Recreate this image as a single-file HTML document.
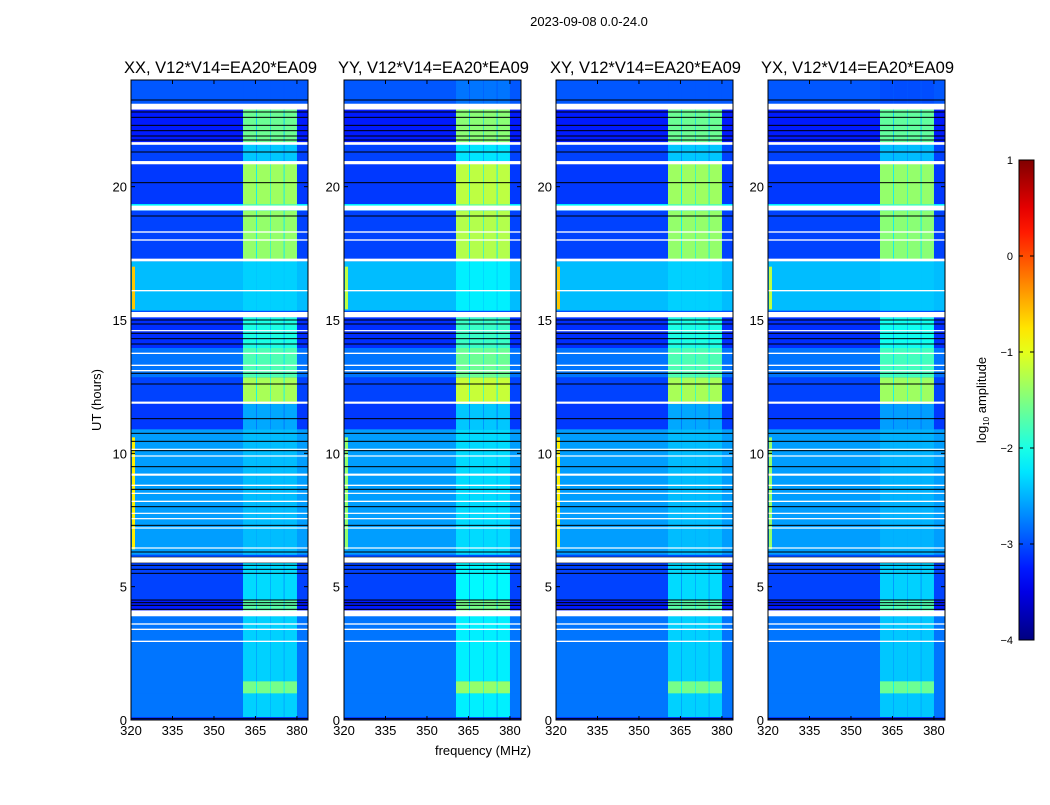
<!DOCTYPE html>
<html><head><meta charset="utf-8"><style>
body{margin:0;background:#fff;width:1050px;height:800px;overflow:hidden;font-family:"Liberation Sans",sans-serif}
svg text{font-family:"Liberation Sans",sans-serif}
</style></head><body>
<svg id="fig" width="1050" height="800" xmlns="http://www.w3.org/2000/svg">
<rect width="1050" height="800" fill="#fff"/>
<text x="589" y="26" font-size="13" text-anchor="middle">2023-09-08 0.0-24.0</text>
<text x="483" y="755" font-size="13" text-anchor="middle">frequency (MHz)</text>
<text transform="translate(101,400) rotate(-90)" font-size="13" text-anchor="middle">UT (hours)</text>
<text transform="translate(986,400) rotate(-90)" font-size="13" text-anchor="middle">log<tspan font-size="8" dy="3">10</tspan><tspan dy="-3"> amplitude</tspan></text>
</svg>
<script>
// ---- data ----
const panelTitles = ["XX, V12*V14=EA20*EA09","YY, V12*V14=EA20*EA09","XY, V12*V14=EA20*EA09","YX, V12*V14=EA20*EA09"];
const panelLefts = [131, 344, 556, 768];
const panelRfiBoost = [0, 0.15, 0, -0.05];
const xTicks = [320, 335, 350, 365, 380];
const yTicks = [0, 5, 10, 15, 20];
const cbTicks = [1, 0, -1, -2, -3, -4];
// time segments (hours) with background and RFI-band log10 amplitude
const segStart = [23.05, 21.65, 20.95, 19.35, 19.1, 17.2, 15.35, 13.95, 12.85, 11.85, 10.9, 6.2, 4.5, 4.1, 0.1, 1.0, 0];
const segEnd   = [24, 23.0, 21.6, 20.85, 19.35, 19.1, 17.2, 15.1, 13.95, 12.85, 11.85, 10.9, 5.95, 4.5, 3.9, 1.45, 0.1];
const segBg    = [-2.95, -3.25, -3.05, -3.1, -2.2, -3.05, -2.45, -3.15, -2.8, -3.05, -3.1, -2.6, -3.05, -3.25, -2.8, -2.8, -3.2];
const segRfi   = [-2.95, -1.6, -2.4, -1.35, -1.7, -1.4, -2.35, -2.0, -1.75, -1.3, -2.55, -2.45, -2.3, -1.7, -2.35, -1.55, -3.2];
// RFI frequency bands (MHz)
const bandLo = [360.5, 365.5, 370.6, 375.5];
const bandHi = [365.2, 370.4, 375.2, 380.0];
// bright left-edge channel segments
const edgeStart = [15.4, 6.4];
const edgeEnd = [17.0, 10.6];
const edgeLevel = [-0.6, -0.8];
// flagged (white) rows: centre hour and height
const flagT = [23.0, 21.62, 20.9, 19.2, 18.3, 18.0, 17.25, 16.1, 15.2, 14.6, 13.75, 13.3, 13.1, 11.9, 10.15, 9.9, 9.2, 8.8, 8.5, 8.2, 7.75, 7.55, 7.2, 6.45, 6.0, 4.0, 3.6, 3.4, 2.95];
const flagH = [0.22, 0.1, 0.12, 0.18, 0.05, 0.05, 0.1, 0.05, 0.2, 0.04, 0.05, 0.05, 0.05, 0.08, 0.04, 0.04, 0.08, 0.05, 0.04, 0.05, 0.04, 0.04, 0.04, 0.04, 0.2, 0.22, 0.05, 0.05, 0.05];
// dark (black) rows
const blackT = [23.25, 22.8, 22.6, 22.3, 22.1, 21.9, 21.75, 21.3, 20.15, 18.9, 15.0, 14.85, 14.5, 14.3, 14.1, 13.0, 12.6, 11.3, 10.75, 10.45, 10.1, 9.5, 8.65, 8.0, 7.3, 6.3, 6.1, 5.9, 5.8, 5.65, 5.5, 4.5, 4.4, 4.3, 4.15, 0.05];

// ---- axes ----
const PW = 177, TOP = 80, BOT = 720, F0 = 320, F1 = 384, T1 = 24;
const yS = t => BOT - t / T1 * (BOT - TOP);
const xS = (x0, f) => x0 + (f - F0) / (F1 - F0) * PW;
function jet(v) {
  const x = Math.max(0, Math.min(1, (v + 4) / 5));
  const c = k => Math.round(255 * Math.max(0, Math.min(1, 1.5 - Math.abs(4 * x - k))));
  return `rgb(${c(3)},${c(2)},${c(1)})`;
}
const NS = "http://www.w3.org/2000/svg";
const svg = document.getElementById('fig');
function mk(tag, attrs, parent) {
  const e = document.createElementNS(NS, tag);
  for (const k in attrs) e.setAttribute(k, attrs[k]);
  (parent || svg).appendChild(e);
  return e;
}
panelLefts.forEach((x0, p) => {
  const g = mk('g', {});
  
  
  mk('rect', {x: x0, y: TOP, width: PW, height: BOT - TOP, fill: jet(-3.0)}, g);
  segStart.forEach((s, i) => {
    const y0 = yS(segEnd[i]), y1 = yS(s);
    const r = mk('rect', {x: x0, y: y0, width: PW, height: y1 - y0, fill: jet(segBg[i])}, g);
    
    
    // gap region between bands slightly above background
    const gx0 = xS(x0, bandLo[0]), gx1 = xS(x0, bandHi[bandHi.length - 1]);
    mk('rect', {x: gx0, y: y0, width: gx1 - gx0, height: y1 - y0, fill: jet((segBg[i] + segRfi[i]) / 2)}, g);
    bandLo.forEach((lo, b) => {
      const bx0 = xS(x0, lo), bx1 = xS(x0, bandHi[b]);
      const c = mk('rect', {x: bx0, y: y0, width: bx1 - bx0, height: y1 - y0, fill: jet(segRfi[i] + panelRfiBoost[p])}, g);
      
      
    });
  });
  edgeStart.forEach((s, i) => {
    const y0 = yS(edgeEnd[i]), y1 = yS(s);
    const e = mk('rect', {x: x0 + 1, y: y0, width: 3, height: y1 - y0, fill: jet(edgeLevel[i] - (p % 2) * 0.6)}, g);
    
    
  });
  blackT.forEach(t => {
    const l = mk('rect', {x: x0, y: yS(t) - 0.5, width: PW, height: 1, fill: '#000'}, g);
    
    
  });
  flagT.forEach((t, i) => {
    const h = Math.max(1.2, flagH[i] / T1 * (BOT - TOP));
    const l = mk('rect', {x: x0, y: yS(t) - h / 2, width: PW, height: h, fill: '#fff'}, g);
    
    
  });
  mk('rect', {x: x0, y: TOP, width: PW, height: BOT - TOP, fill: 'none', stroke: '#000', 'stroke-width': 1}, g);
  xTicks.forEach(f => {
    const x = xS(x0, f);
    mk('line', {x1: x, x2: x, y1: BOT, y2: BOT - 4, stroke: '#000'}, g);
    mk('line', {x1: x, x2: x, y1: TOP, y2: TOP + 4, stroke: '#000'}, g);
    const t = mk('text', {x: x, y: BOT + 15, 'font-size': 13, 'text-anchor': 'middle'}, g);
    t.textContent = f;
    
    
  });
  yTicks.forEach(v => {
    const y = yS(v);
    mk('line', {x1: x0, x2: x0 + 4, y1: y, y2: y, stroke: '#000'}, g);
    mk('line', {x1: x0 + PW, x2: x0 + PW - 4, y1: y, y2: y, stroke: '#000'}, g);
    const t = mk('text', {x: x0 - 4, y: y + 5, 'font-size': 13, 'text-anchor': 'end'}, g);
    t.textContent = v;
    
    
  });
  const tt = mk('text', {x: x0 + PW / 2 + 1, y: 73, 'font-size': 16.5, 'text-anchor': 'middle'}, g);
  tt.textContent = panelTitles[p];
  
  
});
// colorbar
const CX = 1019, CW = 15, CT = 160, CB = 640;
const defs = mk('defs', {});
const lg = mk('linearGradient', {id: 'jetg', x1: 0, y1: 1, x2: 0, y2: 0}, defs);
for (let i = 0; i <= 20; i++) mk('stop', {offset: i / 20, 'stop-color': jet(-4 + i * 5 / 20)}, lg);
const cb = mk('rect', {x: CX, y: CT, width: CW, height: CB - CT, fill: 'url(#jetg)', stroke: '#000'});


cbTicks.forEach(v => {
  const y = CB - (v + 4) / 5 * (CB - CT);
  mk('line', {x1: CX, x2: CX + 4, y1: y, y2: y, stroke: '#000'});
  mk('line', {x1: CX + CW, x2: CX + CW - 4, y1: y, y2: y, stroke: '#000'});
  const t = mk('text', {x: 1013, y: y + 4, 'font-size': 11, 'text-anchor': 'end'});
  t.textContent = v < 0 ? '\u2212' + (-v) : v;
  
  
});
</script>
</body></html>
